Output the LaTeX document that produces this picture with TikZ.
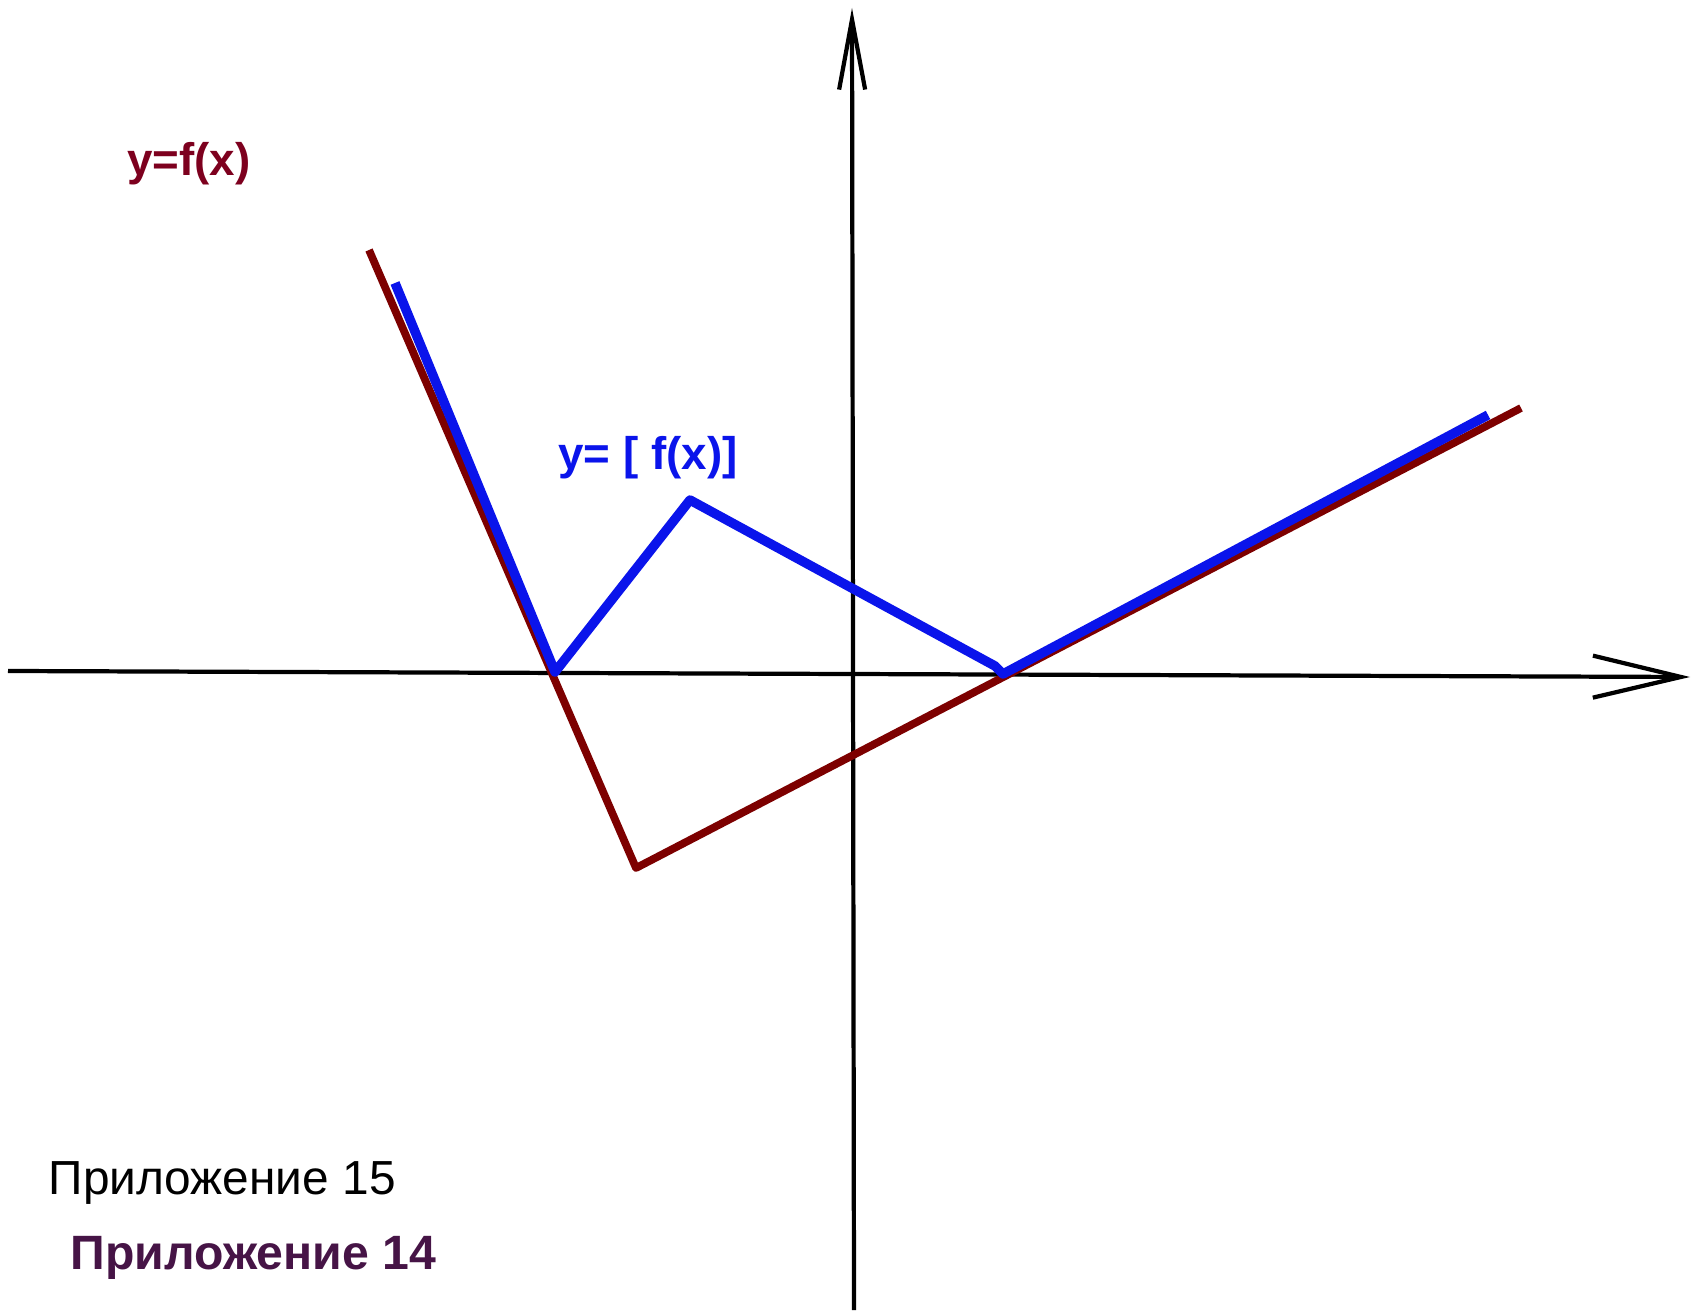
\documentclass[tikz,border=0pt]{standalone}
\usepackage{fontspec}
\setmainfont{Liberation Sans}
\usetikzlibrary{arrows.meta}
\definecolor{fcurve}{RGB}{125,0,0}
\definecolor{flabel}{RGB}{125,0,30}
\definecolor{gcurve}{RGB}{10,20,235}
\definecolor{appcol}{RGB}{70,20,70}

\begin{document}
\begin{tikzpicture}[x=0.01cm, y=-0.01cm,
		axisline/.style={line width=1.2pt},
		fgraph/.style={fcurve, line width=2.2pt, line join=round},
		ggraph/.style={gcurve, line width=2.7pt, line join=round},
		lbl/.style={font=\bfseries\fontsize{13}{15}\selectfont, inner sep=0pt},
	]
	\useasboundingbox (0,0) rectangle (1691,1313);

	% axes
	\coordinate (xl) at (8,671);
	\coordinate (xr) at (1690,677);
	\coordinate (yb) at (854,1310);
	\coordinate (yt) at (852,8);
	\draw[axisline, -{Straight Barb[length=0.88cm, width=0.42cm]}] (xl) -- (xr);
	\draw[axisline, -{Straight Barb[length=0.7cm, width=0.26cm]}] (yb) -- (yt);

	% y = f(x)
	\coordinate (f1) at (369,250);
	\coordinate (f2) at (636,868);
	\coordinate (f3) at (1521,408);
	\draw[fgraph] (f1) -- (f2) -- (f3);

	% y = [f(x)]
	\coordinate (g1) at (395,283);
	\coordinate (g2) at (555,672);
	\coordinate (g3) at (690,500);
	\coordinate (g4) at (995,666);
	\coordinate (g5) at (1003,674);
	\coordinate (g6) at (1488,415);
	\draw[ggraph] (g1) -- (g2) -- (g3) -- (g4) -- (g5) -- (g6);

	% labels
	\node[lbl, text=flabel] (flab) at (189,164) {y=f(x)};
	\node[lbl, text=gcurve] (glab) at (648,458) {y= [ f(x)]};
	\node[anchor=west, inner sep=0pt, font=\fontsize{13.6}{16}\selectfont] (app15) at (48,1183) {Приложение 15};
	\node[anchor=west, inner sep=0pt, text=appcol, font=\bfseries\fontsize{13.7}{16}\selectfont] (app14) at (70,1258) {Приложение 14};
\end{tikzpicture}
\end{document}
